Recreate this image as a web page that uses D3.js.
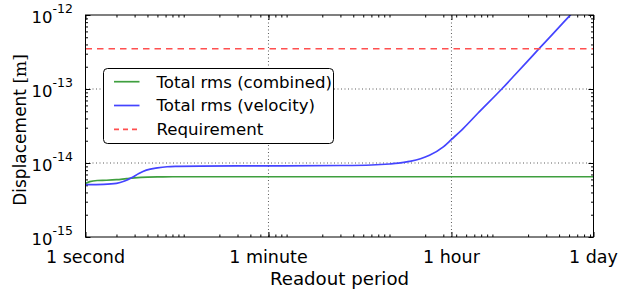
<!DOCTYPE html>
<html>
<head>
<meta charset="utf-8">
<script src="https://cdn.jsdelivr.net/npm/d3@7"></script>
<style>
  body { margin: 0; background: #fff; }
  svg { display: block; font-family: "DejaVu Sans", sans-serif; }
</style>
</head>
<body>
<div id="chart"></div>
<script>
const tickSeconds = [1, 60, 3600, 86400],
    tickLabels = ["1 second", "1 minute", "1 hour", "1 day"],
    yDecades = [1e-15, 1e-14, 1e-13, 1e-12],
    yExponents = ["-15", "-14", "-13", "-12"];

// total rms (combined)
const combinedT = [1, 1.1, 1.3, 1.6, 2, 2.5, 3, 4, 5, 7, 10, 86400],
    combinedV = [5.3e-15, 5.6e-15, 5.8e-15, 5.85e-15, 5.95e-15, 6.15e-15, 6.3e-15, 6.45e-15, 6.5e-15, 6.52e-15, 6.52e-15, 6.52e-15];

// total rms (velocity)
const velocityT = [1, 1.5, 2, 2.4, 2.8, 3.3, 3.9, 5, 6.2, 8, 13, 60, 300, 600, 900, 1100, 1400, 1800, 2200, 3000, 3600, 4700, 6500, 11090, 15000, 20000, 25300, 35000, 51100, 60000],
    velocityV = [5.1e-15, 5.15e-15, 5.3e-15, 5.7e-15, 6.3e-15, 7.2e-15, 8.0e-15, 8.6e-15, 8.9e-15, 9.0e-15, 9.1e-15, 9.15e-15, 9.25e-15, 9.4e-15, 9.7e-15, 9.95e-15, 1.05e-14, 1.14e-14, 1.27e-14, 1.65e-14, 2.08e-14, 2.94e-14, 4.7e-14, 1.0e-13, 1.57e-13, 2.42e-13, 3.45e-13, 5.6e-13, 9.9e-13, 1.26e-12];

const requirement = 3.5e-13;

const legendItems = [
  {label: "Total rms (combined)", color: "#3f9f3f", dash: null},
  {label: "Total rms (velocity)", color: "#4444ff", dash: null},
  {label: "Requirement", color: "#ff4f4f", dash: "5,4"}
];

const width = 619, height = 297,
    margin = {left: 85.5, right: 25.5, top: 15, bottom: 60};

const x = d3.scaleLog().domain([1, 86400]).range([margin.left, width - margin.right]),
    y = d3.scaleLog().domain([1e-15, 1e-12]).range([height - margin.bottom, margin.top]);

const svg = d3.select("#chart").append("svg")
    .attr("width", width)
    .attr("height", height);

const pBottom = y.range()[0], pTop = y.range()[1], pLeft = x.range()[0], pRight = x.range()[1];

svg.append("clipPath").attr("id", "plot")
  .append("rect")
    .attr("x", pLeft).attr("y", pTop)
    .attr("width", pRight - pLeft)
    .attr("height", pBottom - pTop);

// grid
const grid = svg.append("g")
    .attr("stroke", "#000")
    .attr("stroke-width", 0.8)
    .attr("stroke-dasharray", "1,2.5")
    .attr("opacity", 0.8);
grid.selectAll(".gx").data(tickSeconds.slice(1, -1)).enter().append("line")
    .attr("x1", d => x(d)).attr("x2", d => x(d))
    .attr("y1", pBottom).attr("y2", pTop);
grid.selectAll(".gy").data(yDecades.slice(1, -1)).enter().append("line")
    .attr("y1", d => y(d)).attr("y2", d => y(d))
    .attr("x1", pLeft).attr("x2", pRight);

// minor tick values
const xMinor = [], yMinor = [];
for (let k = 0; k <= 4; k++) for (let m = 2; m <= 9; m++) {
  const v = m * Math.pow(10, k);
  if (v < 86400) xMinor.push(v);
}
for (let k = -15; k <= -13; k++) for (let m = 2; m <= 9; m++) yMinor.push(m * Math.pow(10, k));

function tickAxis(axis, tx, ty) {
  const g = svg.append("g").attr("transform", `translate(${tx},${ty})`).call(axis);
  g.select(".domain").remove();
  g.selectAll("line").attr("stroke", "#000").attr("stroke-width", 1);
  g.selectAll("text").remove();
  return g;
}

tickAxis(d3.axisBottom(x).tickValues(tickSeconds).tickSize(-5), 0, pBottom);
tickAxis(d3.axisBottom(x).tickValues(xMinor).tickSize(-2.5), 0, pBottom);
tickAxis(d3.axisTop(x).tickValues(tickSeconds).tickSize(-5), 0, pTop);
tickAxis(d3.axisTop(x).tickValues(xMinor).tickSize(-2.5), 0, pTop);
tickAxis(d3.axisLeft(y).tickValues(yDecades).tickSize(-5), pLeft, 0);
tickAxis(d3.axisLeft(y).tickValues(yMinor).tickSize(-2.5), pLeft, 0);
tickAxis(d3.axisRight(y).tickValues(yDecades).tickSize(-5), pRight, 0);
tickAxis(d3.axisRight(y).tickValues(yMinor).tickSize(-2.5), pRight, 0);

// lines
const line = d3.line().x(d => x(d[0])).y(d => y(d[1])).curve(d3.curveMonotoneX);
const lines = svg.append("g").attr("clip-path", "url(#plot)").attr("fill", "none");

lines.append("path")
    .datum(combinedT.map((t, i) => [t, combinedV[i]]))
    .attr("d", line)
    .attr("stroke", legendItems[0].color)
    .attr("stroke-width", 1.7);

lines.append("path")
    .datum(velocityT.map((t, i) => [t, velocityV[i]]))
    .attr("d", line)
    .attr("stroke", legendItems[1].color)
    .attr("stroke-width", 1.7);

lines.append("line")
    .attr("x1", pLeft).attr("x2", pRight)
    .attr("y1", y(requirement)).attr("y2", y(requirement))
    .attr("stroke", legendItems[2].color)
    .attr("stroke-width", 1.7)
    .attr("stroke-dasharray", "6.5,5");

// frame
svg.append("rect")
    .attr("x", pLeft).attr("y", pTop)
    .attr("width", pRight - pLeft).attr("height", pBottom - pTop)
    .attr("fill", "none").attr("stroke", "#000").attr("stroke-width", 1);

// x tick labels
svg.append("g").selectAll("text").data(tickSeconds).enter().append("text")
    .attr("x", d => x(d))
    .attr("y", 263)
    .attr("text-anchor", "middle")
    .attr("font-size", 17.5)
    .text((d, i) => tickLabels[i]);

// y tick labels
const yl = svg.append("g").selectAll("text").data(yDecades).enter().append("text")
    .attr("x", 73)
    .attr("y", d => y(d) + 7.6)
    .attr("text-anchor", "end")
    .attr("font-size", 16.5);
yl.append("tspan").text("10");
yl.append("tspan").attr("font-size", 12.5).attr("dy", -9.3).text((d, i) => yExponents[i]);

// axis titles
svg.append("text")
    .attr("x", (pLeft + pRight) / 2)
    .attr("y", 285)
    .attr("text-anchor", "middle")
    .attr("font-size", 18.2)
    .text("Readout period");

const ylab = svg.append("text")
    .attr("transform", `translate(26,${(pTop + pBottom) / 2 + 4}) rotate(-90)`)
    .attr("text-anchor", "middle")
    .attr("font-size", 17);
ylab.append("tspan").text("Displacement ");
ylab.append("tspan").attr("font-family", "DejaVu Serif").text("[m]");

// legend
const legend = svg.append("g").attr("transform", "translate(103.5,68.5)");
legend.append("rect")
    .attr("width", 230).attr("height", 75).attr("rx", 4)
    .attr("fill", "#fff").attr("stroke", "#000").attr("stroke-width", 1);
const item = legend.selectAll(".item").data(legendItems).enter().append("g")
    .attr("transform", (d, i) => `translate(0,${13.2 + i * 23.8})`);
item.append("line")
    .attr("x1", 10.5).attr("x2", 36)
    .attr("stroke", d => d.color)
    .attr("stroke-width", 1.7)
    .attr("stroke-dasharray", d => d.dash);
item.append("text")
    .attr("x", 53)
    .attr("y", 5.8)
    .attr("font-size", 16.6)
    .text(d => d.label);
</script>
</body>
</html>
